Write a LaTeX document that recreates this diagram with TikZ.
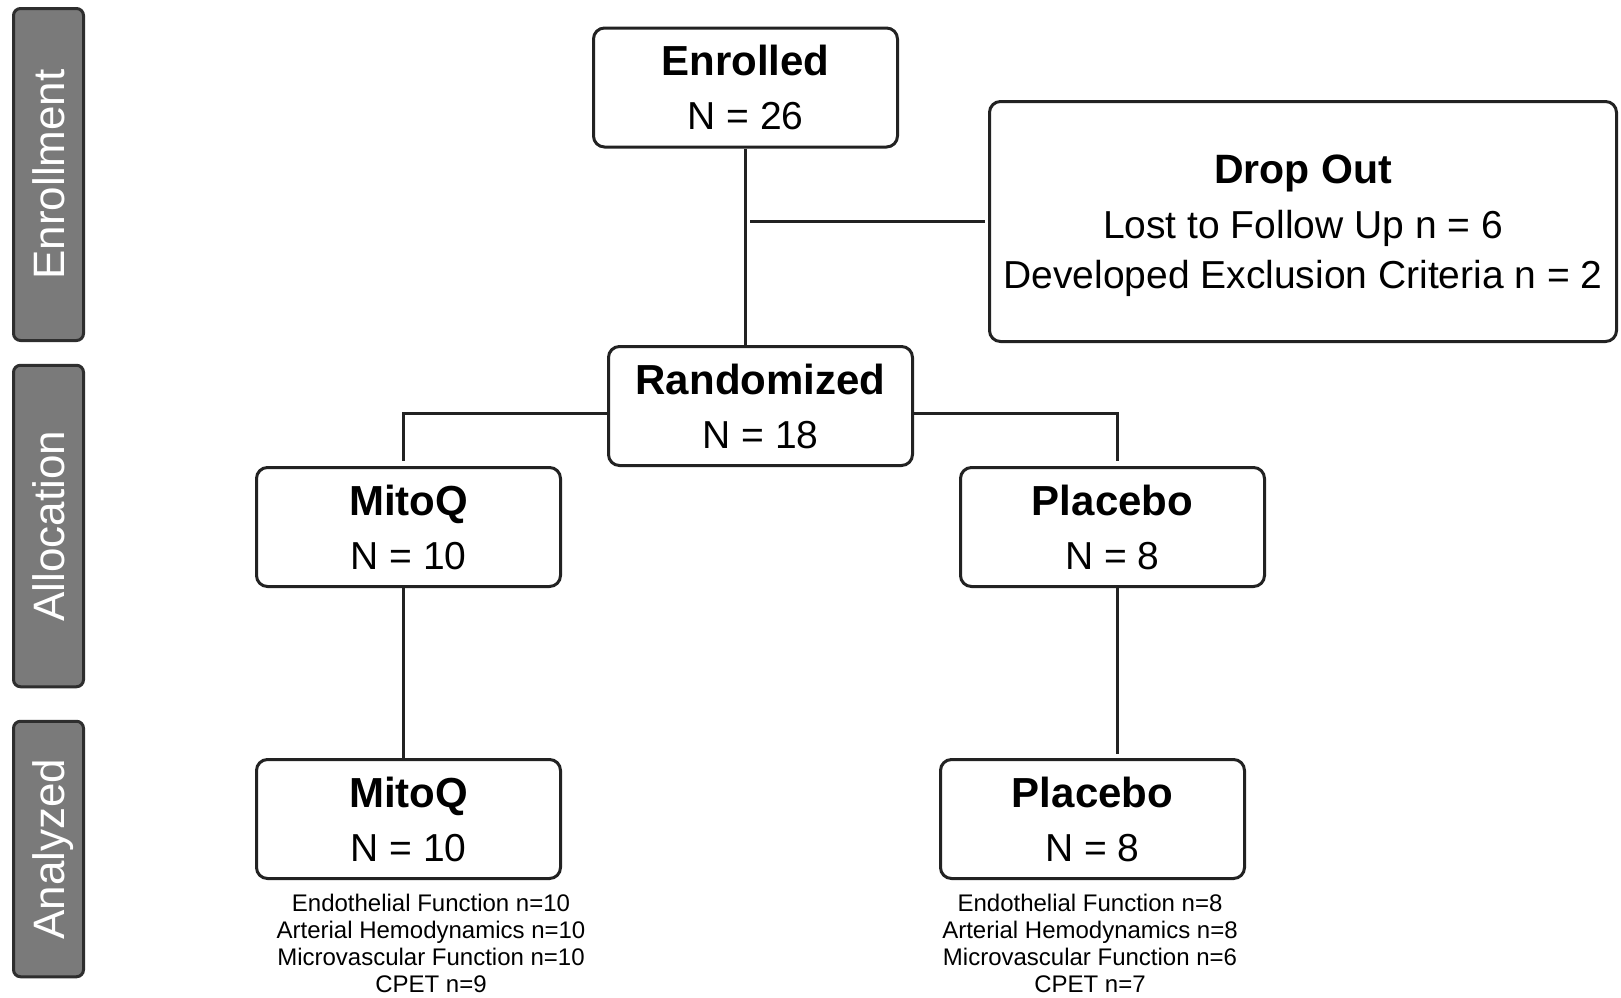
\documentclass[tikz,border=0pt]{standalone}
\usepackage{fontspec}
\setmainfont{Liberation Sans}
\definecolor{linec}{HTML}{222222}
\definecolor{sidefill}{HTML}{7A7A7A}
\definecolor{sideborder}{HTML}{2E2E2E}
\begin{document}
\begin{tikzpicture}[x=1pt,y=-1pt,
  box/.style={draw=linec, line width=3pt, rounded corners=11pt, fill=white,
    minimum width=304pt, minimum height=119pt, inner sep=0pt, align=center,
    font=\fontsize{39}{54}\selectfont},
  side/.style={draw=sideborder, fill=sidefill, line width=3pt, rounded corners=7pt,
    minimum height=70pt, inner sep=0pt, text=white, rotate=90,
    text height=31.5pt, text depth=0pt, font=\fontsize{44}{50}\selectfont},
  conn/.style={draw=linec, line width=3pt},
  res/.style={anchor=north, inner sep=0pt, align=center, font=\fontsize{24}{27}\selectfont}]
\useasboundingbox (0,0) rectangle (1621,997);

% phase labels
\node[side, minimum width=332pt] (enr) at (48.5,174.5) {Enrollment};
\node[side, minimum width=321.5pt] (alloc) at (48.5,526) {Allocation};
\node[side, minimum width=255.5pt] (anal) at (48.5,849) {Analyzed};

% boxes
\node[box] (enrolled) at (745.5,87.5) {{\bfseries\fontsize{42}{54}\selectfont Enrolled}\\N = 26};
\node[box] (randomized) at (760.5,406) {{\bfseries\fontsize{42}{54}\selectfont Randomized}\\N = 18};
\node[box] (mitoq1) at (408.5,527) {{\bfseries\fontsize{42}{54}\selectfont MitoQ}\\N = 10};
\node[box] (placebo1) at (1112.5,527) {{\bfseries\fontsize{42}{54}\selectfont Placebo}\\N = 8};
\node[box] (mitoq2) at (408.5,819) {{\bfseries\fontsize{42}{54}\selectfont MitoQ}\\N = 10};
\node[box] (placebo2) at (1092.5,819) {{\bfseries\fontsize{42}{54}\selectfont Placebo}\\N = 8};
\node[box, minimum width=627pt, minimum height=240pt, font=\fontsize{39}{50}\selectfont] (dropout) at (1303,221.5)
  {\rule{0pt}{38pt}{\bfseries\fontsize{41}{50}\selectfont Drop Out}\\[5pt]Lost to Follow Up n = 6\\Developed Exclusion Criteria n = 2};

% results
\node[res] (mitoqres) at (431,893.5) {Endothelial Function n=10\\Arterial Hemodynamics n=10\\Microvascular Function n=10\\CPET n=9};
\node[res] (placebores) at (1090,893.5) {Endothelial Function n=8\\Arterial Hemodynamics n=8\\Microvascular Function n=6\\CPET n=7};

% connectors
\coordinate (dj) at (750,221);
\draw[conn] (enrolled.south) -- (enrolled.south |- randomized.north);
\draw[conn] ([xshift=-3pt,yshift=0.5pt]dropout.west) -- (dj);
\draw[conn] ([yshift=-7pt]randomized.west) -| ([xshift=-5pt,yshift=5pt]mitoq1.north);
\draw[conn] ([yshift=-7pt]randomized.east) -| ([xshift=5pt,yshift=5pt]placebo1.north);
\draw[conn] ([xshift=-5pt]mitoq1.south) -- ([xshift=-5pt]mitoq1.south |- mitoq2.north);
\draw[conn] ([xshift=5pt]placebo1.south) -- ([xshift=5pt,yshift=4pt]placebo1.south |- placebo2.north);
\end{tikzpicture}
\end{document}
